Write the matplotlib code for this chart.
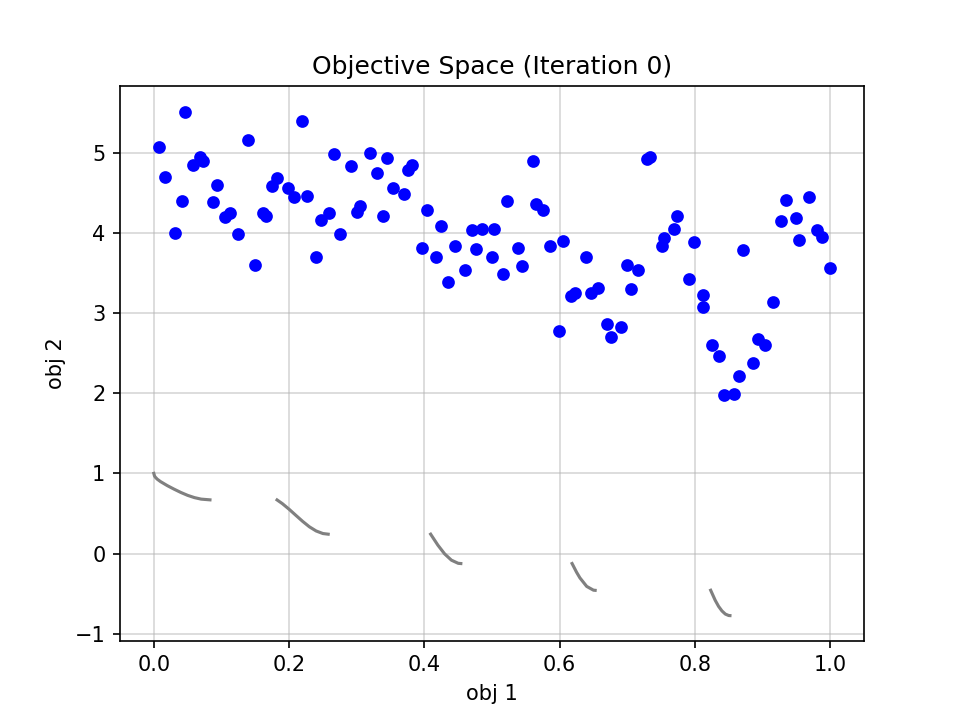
import matplotlib
matplotlib.use("Agg")
import matplotlib.pyplot as plt

# population (obj 1, obj 2)
obj1 = [0.007, 0.016, 0.031, 0.041, 0.046, 0.058, 0.068, 0.072, 0.093, 0.087,
        0.105, 0.112, 0.124, 0.139, 0.149, 0.161, 0.166, 0.175, 0.182, 0.198,
        0.207, 0.219, 0.226, 0.240, 0.247, 0.259, 0.266, 0.275, 0.291, 0.300,
        0.305, 0.320, 0.330, 0.339, 0.345, 0.354, 0.370, 0.376, 0.382, 0.396,
        0.404, 0.417, 0.425, 0.435, 0.445, 0.460, 0.470, 0.476, 0.485, 0.500,
        0.503, 0.516, 0.522, 0.538, 0.544, 0.561, 0.565, 0.575, 0.586, 0.599,
        0.605, 0.617, 0.623, 0.639, 0.646, 0.657, 0.670, 0.676, 0.691, 0.700,
        0.706, 0.716, 0.729, 0.734, 0.751, 0.754, 0.769, 0.774, 0.792, 0.799,
        0.812, 0.812, 0.825, 0.836, 0.843, 0.858, 0.865, 0.871, 0.886, 0.893,
        0.904, 0.916, 0.928, 0.935, 0.950, 0.954, 0.969, 0.981, 0.988, 1.000]
obj2 = [5.07, 4.69, 4.00, 4.40, 5.51, 4.84, 4.94, 4.89, 4.60, 4.38,
        4.20, 4.25, 3.98, 5.16, 3.60, 4.24, 4.21, 4.58, 4.68, 4.56,
        4.45, 5.39, 4.46, 3.70, 4.16, 4.24, 4.98, 3.98, 4.83, 4.26,
        4.33, 4.99, 4.74, 4.21, 4.93, 4.56, 4.48, 4.78, 4.84, 3.81,
        4.28, 3.70, 4.09, 3.39, 3.84, 3.54, 4.03, 3.80, 4.05, 3.70,
        4.05, 3.49, 4.39, 3.81, 3.58, 4.90, 4.36, 4.28, 3.84, 2.78,
        3.90, 3.21, 3.25, 3.70, 3.25, 3.31, 2.86, 2.70, 2.83, 3.60,
        3.30, 3.54, 4.92, 4.94, 3.83, 3.94, 4.05, 4.21, 3.42, 3.89,
        3.08, 3.22, 2.60, 2.46, 1.98, 1.99, 2.21, 3.78, 2.38, 2.67,
        2.60, 3.14, 4.14, 4.41, 4.18, 3.91, 4.44, 4.04, 3.95, 3.56]

# true pareto front, one list per disconnected piece
front_x = [
    [0.0, 0.001, 0.002, 0.005, 0.01, 0.02, 0.03, 0.04, 0.05, 0.06, 0.07, 0.083],
    [0.1822, 0.19, 0.20, 0.21, 0.22, 0.23, 0.24, 0.25, 0.2578],
    [0.4093, 0.42, 0.43, 0.44, 0.45, 0.4539],
    [0.6184, 0.625, 0.63, 0.64, 0.65, 0.6525],
    [0.8233, 0.83, 0.835, 0.84, 0.845, 0.85, 0.8518],
]
front_y = [
    [1.0, 0.968, 0.955, 0.928, 0.897, 0.847, 0.803, 0.762, 0.726, 0.698, 0.679, 0.670],
    [0.669, 0.623, 0.553, 0.477, 0.402, 0.334, 0.282, 0.250, 0.242],
    [0.242, 0.105, -0.004, -0.082, -0.121, -0.124],
    [-0.124, -0.232, -0.303, -0.409, -0.456, -0.458],
    [-0.457, -0.582, -0.658, -0.715, -0.754, -0.772, -0.773],
]

fig, ax = plt.subplots(figsize=(6.4, 4.8), dpi=150)

for fx, fy in zip(front_x, front_y):
    ax.plot(fx, fy, color="gray", linewidth=1.5)

ax.scatter(obj1, obj2, color="blue", s=26, zorder=3)

ax.set_title("Objective Space (Iteration 0)")
ax.set_xlabel("obj 1")
ax.set_ylabel("obj 2")
ax.grid(True, alpha=0.5)

plt.savefig("out.png", dpi=150)
